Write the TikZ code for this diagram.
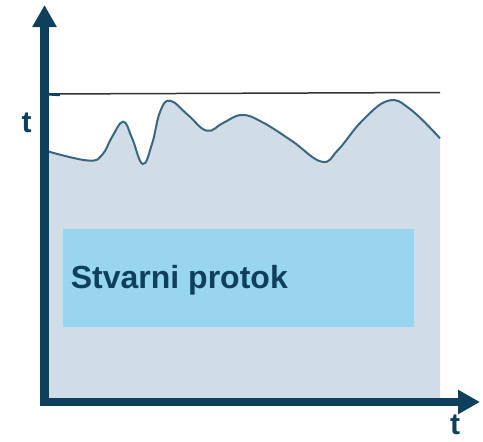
\documentclass[tikz,border=0pt]{standalone}
\usepackage{fontspec}
\setmainfont{Liberation Sans}
\usetikzlibrary{arrows.meta}
\definecolor{navy}{HTML}{0E3F5C}
\definecolor{areafill}{HTML}{D0DDE6}
\definecolor{curvec}{HTML}{3A6682}
\definecolor{boxfill}{HTML}{98D5EF}
\definecolor{refline}{HTML}{333333}
\tikzset{
  axis/.style={navy, line width=9pt, -{Triangle[length=22pt,width=23pt]}},
  lbl/.style={navy, font=\fontsize{30}{36}\selectfont\bfseries, inner sep=0pt},
  curve/.style={curvec, line width=2pt},
}
\begin{document}
\begin{tikzpicture}[x=1pt,y=-1pt]
\useasboundingbox (0,0) rectangle (483,442);
\def\pts{(49,151.7) (88,160.5) (102,155) (112,137) (123.3,121.7) (132,138) (142.7,164) (152,144) (160,112) (170,100.7) (188,115) (206.7,130.7) (223,123) (241.7,115) (262,122) (292,141) (321.7,161.7) (338,150) (362,121) (388.3,100.7) (410,109) (440,138.3)}
\fill[areafill] (49,402) -- plot[smooth, tension=0.7] coordinates {\pts} -- (440,402) -- cycle;
\node[fill=boxfill, minimum width=351.3pt, minimum height=98.4pt, inner sep=0pt, anchor=north west] (box) at (62.7,228.3) {};
\node[navy, font=\fontsize{32}{38}\selectfont\bfseries, inner sep=0pt, anchor=base west] (txt) at (70.7,288) {Stvarni protok};
\draw[curve] plot[smooth, tension=0.7] coordinates {\pts};
\coordinate (hl1) at (44,94);
\coordinate (hl2) at (440,92.5);
\draw[refline, line width=1.5pt] (hl1) -- (hl2);
\coordinate (tk2) at (60,95);
\draw[navy, line width=2.5pt] (hl1) -- (tk2);
\coordinate (o) at (44.5,402);
\coordinate (ytip) at (44.5,5);
\coordinate (xs) at (40,402);
\coordinate (xtip) at (480,402);
\draw[axis, shorten <=-4pt] (o) -- (ytip);
\draw[axis, line width=8pt] (xs) -- (xtip);
\node[lbl] (ty) at (26.5,123) {t};
\node[lbl] (tx) at (455,425) {t};
\end{tikzpicture}
\end{document}
